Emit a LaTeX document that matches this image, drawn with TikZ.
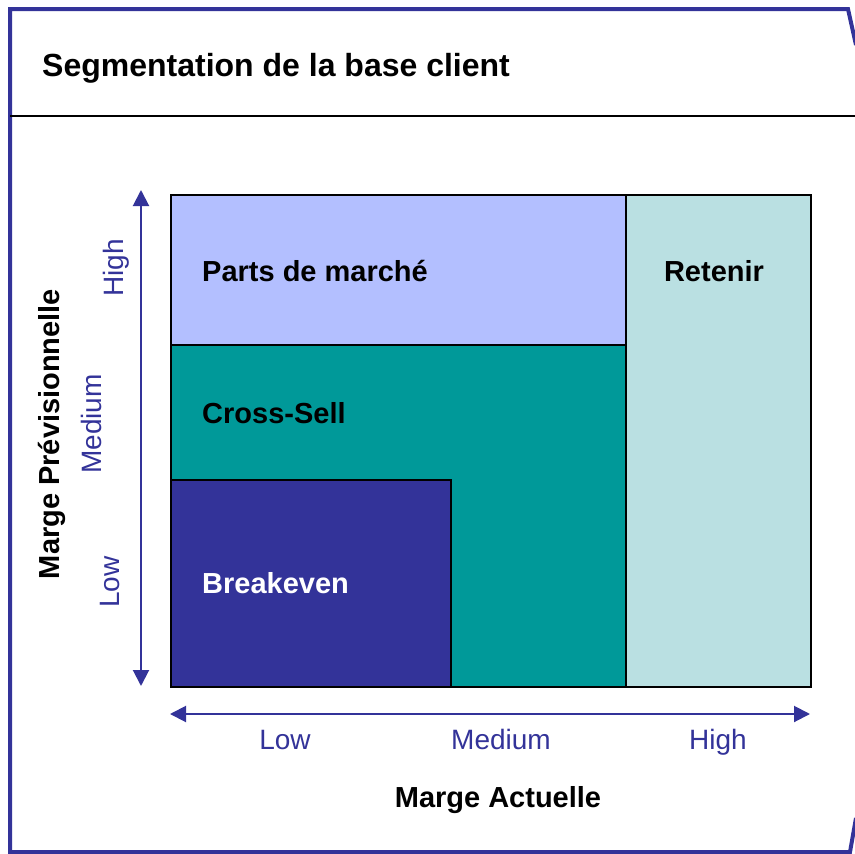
\documentclass[tikz,border=0pt]{standalone}
\usepackage{fontspec}
\setmainfont{Liberation Sans}
\usepackage{tikz}
\usetikzlibrary{arrows.meta}

\definecolor{navy}{RGB}{51,51,153}
\definecolor{lavender}{RGB}{179,191,255}
\definecolor{teal}{RGB}{0,153,153}
\definecolor{paleteal}{RGB}{186,224,226}

\tikzset{
  cell/.style={draw=black, line width=1.5pt, anchor=north west, inner sep=0pt},
  celltext/.style={font=\fontsize{29}{34}\selectfont\bfseries, anchor=west, inner sep=0pt},
  axis/.style={draw=navy, line width=2pt, {Triangle[length=16pt,width=16pt]}-{Triangle[length=16pt,width=16pt]}},
  level/.style={text=navy, font=\fontsize{28}{33}\selectfont, inner sep=0pt},
  axistitle/.style={font=\fontsize{29}{34}\selectfont\bfseries, inner sep=0pt}
}

\begin{document}
\begin{tikzpicture}[x=1pt,y=-1pt]
  \useasboundingbox (0,0) rectangle (855,854);
  % frame and header
  \draw[navy, line width=4pt, line join=miter]
    (856,45) -- (848,9) -- (10,9) -- (10,852) -- (850,852) -- (856,818);
  \draw[black, line width=2pt] (10,116) -- (855,116);
  \node[font=\fontsize{32}{38}\selectfont\bfseries, anchor=west, inner sep=0pt] (title) at (42,68)
    {Segmentation de la base client};

  % segments
  \node[cell, fill=teal, minimum width=455pt, minimum height=342pt] (cross) at (170,344) {};
  \node[cell, fill=navy, minimum width=280pt, minimum height=207pt] (breakeven) at (170,479) {};
  \node[cell, fill=lavender, minimum width=455pt, minimum height=150pt] (parts) at (170,194) {};
  \node[cell, fill=paleteal, minimum width=185pt, minimum height=492pt] (retenir) at (625,194) {};

  \node[celltext] (partstext) at (202,271) {Parts de marché};
  \node[celltext, anchor=center] (retenirtext) at (714,271) {Retenir};
  \node[celltext] (crosstext) at (202,413) {Cross-Sell};
  \node[celltext, text=white] (breakeventext) at (202,583) {Breakeven};

  % axes
  \coordinate (ytop) at (141,190);
  \coordinate (ybot) at (141,686);
  \coordinate (xleft) at (170,714);
  \coordinate (xright) at (810,714);
  \path[axis] (ybot) -- (ytop);
  \path[axis] (xleft) -- (xright);

  \node[level, rotate=90] (ylow) at (110,582) {Low};
  \node[level, rotate=90] (ymed) at (91,424) {Medium};
  \node[level, rotate=90] (yhigh) at (116,268) {High};
  \node[level, anchor=base] (xlow) at (285,749) {Low};
  \node[level, anchor=base] (xmed) at (501,749) {Medium};
  \node[level, anchor=base] (xhigh) at (718,749) {High};

  \node[axistitle] (xtitle) at (498,800) {Marge Actuelle};
  \node[axistitle, rotate=90] (ytitle) at (52,434) {Marge Prévisionnelle};
\end{tikzpicture}
\end{document}
